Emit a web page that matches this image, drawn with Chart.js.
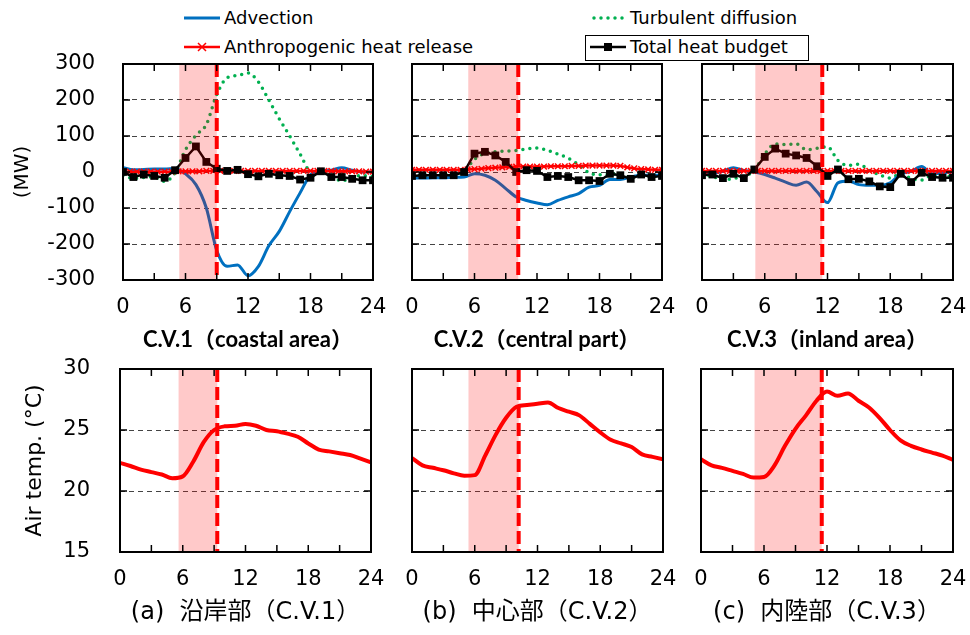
<!DOCTYPE html>
<html><head><meta charset="utf-8">
<script src="https://cdn.jsdelivr.net/npm/chart.js@4.4.0/dist/chart.umd.min.js"></script>
<style>
html,body{margin:0;padding:0;background:#fff;}
#wrap{position:relative;width:970px;height:635px;overflow:hidden;background:#fff;font-family:'DejaVu Sans','Noto Sans CJK JP',sans-serif;}
canvas{position:absolute;}
.lg{position:absolute;font-size:18px;line-height:22px;color:#000;white-space:nowrap;}
svg{position:absolute;overflow:visible;}
#boxT{position:absolute;left:585px;top:35px;width:222px;height:24px;border:1px solid #000;}
</style></head><body>
<div id="wrap">
  <svg style="left:182px;top:10px" width="40" height="16"><line x1="2" y1="8" x2="38" y2="8" stroke="#0070C0" stroke-width="3"/></svg>
  <div class="lg" style="left:224px;top:7px">Advection</div>
  <svg style="left:182px;top:39px" width="40" height="16"><line x1="2" y1="8" x2="38" y2="8" stroke="#FF0000" stroke-width="2.5"/><path d="M16 4 L24 12 M24 4 L16 12" stroke="#FF0000" stroke-width="1.5"/></svg>
  <div class="lg" style="left:224px;top:36px">Anthropogenic heat release</div>
  <svg style="left:590px;top:10px" width="40" height="16"><line x1="4" y1="8" x2="36" y2="8" stroke="#00B050" stroke-width="3.5" stroke-dasharray="0 7" stroke-linecap="round"/></svg>
  <div class="lg" style="left:630px;top:7px">Turbulent diffusion</div>
  <div id="boxT"></div>
  <svg style="left:588px;top:39px" width="40" height="16"><line x1="2" y1="8" x2="38" y2="8" stroke="#000" stroke-width="2.5"/><rect x="16" y="4" width="8" height="8" fill="#000"/></svg>
  <div class="lg" style="left:630px;top:36px">Total heat budget</div>

  <canvas id="t1" width="400" height="305" style="left:0px;top:50px"></canvas>
  <canvas id="t2" width="310" height="305" style="left:380px;top:50px"></canvas>
  <canvas id="t3" width="300" height="305" style="left:670px;top:50px"></canvas>
  <canvas id="b1" width="400" height="280" style="left:0px;top:355px"></canvas>
  <canvas id="b2" width="310" height="280" style="left:380px;top:355px"></canvas>
  <canvas id="b3" width="300" height="280" style="left:670px;top:355px"></canvas>
</div>
<script>
// ---- data ----
const hours = [0,1,2,3,4,5,6,7,8,9,10,11,12,13,14,15,16,17,18,19,20,21,22,23,24];
const anthHours = [0,0.67,1.33,2,2.67,3.33,4,4.67,5.33,6,6.67,7.33,8,8.67,9.33,10,10.67,11.33,12,12.67,13.33,14,14.67,15.33,16,16.67,17.33,18,18.67,19.33,20,20.67,21.33,22,22.67,23.33,24];

const adv1  = [12,6,7,8,8,10,-5,-35,-100,-218,-262,-258,-288,-262,-205,-165,-110,-58,-8,2,5,12,5,0,0];
const turb1 = [-10,-18,-15,-14,-26,-2,62,102,132,215,262,268,275,250,200,148,100,50,2,0,-10,-25,-14,-10,-12];
const tot1  = [0,-14,-7,-11,-16,5,39,71,28,9,3,6,-6,-12,-5,-9,-11,-21,-16,2,-14,-14,-19,-23,-23];
const anth1 = [1,1,1,1,1,1,1,1,2,2,2,2,3,3,3,3,3,3,3,3,3,3,3,3,3,3,3,3,3,3,3,2,2,2,2,1,1];

const adv2  = [-17,-17,-16,-16,-15,-14,-5,-9,-23,-46,-69,-79,-86,-91,-79,-69,-60,-42,-37,-21,-21,-14,-9,-9,-9];
const turb2 = [-12,-10,-9,-9,-8,2,35,52,56,58,60,64,67,60,50,38,20,-2,-8,-6,-8,-15,-8,-12,-10];
const tot2  = [-11,-9,-9,-9,-9,0,51,56,46,28,0,5,3,-14,-11,-14,-23,-23,-25,-5,-9,-19,-7,-14,-11];
const anth2 = [6,6,6,6,6,6,6,6,7,8,9,11,12,13,14,15,15,15,15,15,16,16,16,17,17,18,18,18,18,18,17,13,10,8,7,6,6];

const adv3  = [0,-3,2,12,4,0,-7,-17,-28,-37,-28,-55,-85,-30,-25,-35,-37,-37,-30,-6,2,15,-5,-2,0];
const turb3 = [-8,-12,-22,-18,-12,5,50,78,76,78,62,66,70,32,18,22,5,-8,-17,-5,-18,-22,-10,-12,-12];
const tot3  = [-9,-7,-17,-5,-17,7,42,65,51,46,39,16,-11,7,-20,-19,-26,-40,-42,-5,-28,-2,-14,-16,-16];
const anth3 = [3,3,3,3,3,3,3,3,3,3,3,3,3,3,3,3,3,3,3,3,3,3,3,3,3,3,3,3,3,3,3,3,3,3,3,3,3];

const temp1 = [22.3,22.05,21.75,21.55,21.35,21.05,21.2,22.4,24.0,25.0,25.3,25.35,25.5,25.35,25.0,24.9,24.7,24.45,23.9,23.4,23.25,23.1,22.95,22.65,22.35];
const temp2 = [22.7,22.1,21.9,21.7,21.45,21.25,21.3,22.9,24.6,26.0,26.9,27.05,27.15,27.25,26.8,26.5,26.2,25.5,24.8,24.2,23.9,23.6,23.0,22.8,22.6];
const temp3 = [22.6,22.1,21.9,21.65,21.4,21.1,21.15,22.1,23.7,25.1,26.2,27.4,28.15,27.8,28.0,27.4,26.85,26.0,25.0,24.15,23.7,23.4,23.15,22.9,22.55];

const topTitles = ['C.V.1（coastal area）','C.V.2（central part）','C.V.3（inland area）'];
const bottomTitles = ['(a)  沿岸部（C.V.1）','(b)  中心部（C.V.2）','(c)  内陸部（C.V.3）'];
const shadeTop = [[5.4,9.0],[5.4,10.2],[5.1,11.5]];
const shadeBottom = [[5.6,9.3],[5.4,10.2],[5.1,11.5]];

// ---- drawing ----
const FONT = "'DejaVu Sans','Noto Sans CJK JP',sans-serif";
Chart.defaults.font.family = FONT;
Chart.defaults.color = '#000';

const framePlugin = {
  id: 'frame',
  afterDatasetsDraw(chart, args, opts) {
    const {ctx, chartArea: a, scales: {x, y}} = chart;
    const sh = opts.shade;
    ctx.save();
    const x0 = x.getPixelForValue(sh[0]), x1 = x.getPixelForValue(sh[1]);
    ctx.fillStyle = 'rgba(255,0,0,0.21)';
    ctx.fillRect(x0, a.top, x1 - x0, a.bottom - a.top);
    ctx.strokeStyle = '#FF0000'; ctx.lineWidth = 4; ctx.setLineDash([13, 5]);
    ctx.beginPath(); ctx.moveTo(x1, a.top); ctx.lineTo(x1, a.bottom); ctx.stroke();
    ctx.setLineDash([]);
    ctx.strokeStyle = '#000'; ctx.lineWidth = 2;
    ctx.strokeRect(a.left, a.top, a.right - a.left, a.bottom - a.top);
    ctx.lineWidth = 1.5;
    ctx.beginPath();
    for (let t = 3; t < 24; t += 3) {
      const px = x.getPixelForValue(t);
      ctx.moveTo(px, a.bottom); ctx.lineTo(px, a.bottom - 7);
      ctx.moveTo(px, a.top); ctx.lineTo(px, a.top + 7);
    }
    y.ticks.forEach(tk => {
      const py = y.getPixelForValue(tk.value);
      ctx.moveTo(a.left, py); ctx.lineTo(a.left + 7, py);
      ctx.moveTo(a.right, py); ctx.lineTo(a.right - 7, py);
    });
    ctx.stroke();
    ctx.restore();
  }
};

const pads = [{left:0,right:27},{left:32,right:28},{left:32,right:17}];
const padsB = [{left:0,right:29},{left:32,right:27},{left:31,right:17}];
const CLEAR = 'rgba(0,0,0,0)';

function pts(xs, ys) { return xs.map((h, i) => ({x: h, y: ys[i]})); }

function xScale(title, titleFont, titlePadBottom, height) {
  return {type:'linear', min:0, max:24,
    grid:{display:true, drawOnChartArea:false, drawTicks:true, tickLength:15, color:CLEAR, tickColor:CLEAR},
    border:{display:false},
    ticks:{stepSize:6, padding:0, font:{size:21}, color:'#000', maxRotation:0},
    title:{display:true, text:title, color:'#000', font:titleFont, padding:{top:0,bottom:titlePadBottom}},
    afterFit:s => { s.height = height; }};
}

function topChart(id, idx, adv, turb, anth, tot) {
  const showY = idx === 0;
  return new Chart(document.getElementById(id), {
    type: 'line',
    data: { datasets: [
      {label:'Total heat budget', data: pts(hours, tot), borderColor:'#000', backgroundColor:'#000', borderWidth:2.5, pointStyle:'rect', pointRadius:5.5, pointBorderWidth:0, tension:0},
      {label:'Anthropogenic heat release', data: pts(anthHours, anth), borderColor:'#FF0000', backgroundColor:'#FF0000', borderWidth:2.5, pointStyle:'crossRot', pointRadius:4, pointBorderWidth:1.5, pointBorderColor:'#FF0000', tension:0},
      {label:'Advection', data: pts(hours, adv), borderColor:'#0070C0', borderWidth:3, pointRadius:0, cubicInterpolationMode:'monotone'},
      {label:'Turbulent diffusion', data: pts(hours, turb), borderColor:'#00B050', borderWidth:3.5, borderDash:[0,7], borderCapStyle:'round', pointRadius:0, cubicInterpolationMode:'monotone'}
    ]},
    options: {
      responsive:false, animation:false, events:[],
      layout:{padding:{left:pads[idx].left, right:pads[idx].right, top:14, bottom:0}},
      plugins:{legend:{display:false}, tooltip:{enabled:false}, frame:{shade:shadeTop[idx]}},
      scales:{
        x: xScale(topTitles[idx], {size:22, weight:'bold', family:"Lato,'Noto Sans CJK JP',sans-serif"}, 2, 75),
        y:{type:'linear', min:-300, max:300,
           ticks:{display:showY, stepSize:100, padding:0, font:{size:21}, color:'#000'},
           grid:{color:'#444', lineWidth:1, drawTicks:true, tickLength:28, tickColor:CLEAR}, border:{display:false, dash:[5,4]},
           title:{display:showY, text:'(MW)', color:'#000', font:{size:20}, padding:{top:11}},
           afterFit:s => { s.width = showY ? 123 : 0; }}
      }
    },
    plugins:[framePlugin]
  });
}

function bottomChart(id, idx, temp) {
  const showY = idx === 0;
  return new Chart(document.getElementById(id), {
    type: 'line',
    data: { datasets: [
      {label:'Air temp.', data: pts(hours, temp), borderColor:'#FF0000', borderWidth:4, pointRadius:0, cubicInterpolationMode:'monotone'}
    ]},
    options: {
      responsive:false, animation:false, events:[],
      layout:{padding:{left:padsB[idx].left, right:padsB[idx].right, top:14, bottom:0}},
      plugins:{legend:{display:false}, tooltip:{enabled:false}, frame:{shade:shadeBottom[idx]}},
      scales:{
        x: xScale(bottomTitles[idx], {size:24}, 8, 83),
        y:{type:'linear', min:15, max:30,
           ticks:{display:showY, stepSize:5, padding:0, font:{size:21}, color:'#000'},
           grid:{color:'#444', lineWidth:1, drawTicks:true, tickLength:30, tickColor:CLEAR}, border:{display:false, dash:[5,4]},
           title:{display:showY, text:'Air temp. (°C)', color:'#000', font:{size:22}, padding:{top:22}},
           afterFit:s => { s.width = showY ? 120 : 0; }}
      }
    },
    plugins:[framePlugin]
  });
}

topChart('t1', 0, adv1, turb1, anth1, tot1);
topChart('t2', 1, adv2, turb2, anth2, tot2);
topChart('t3', 2, adv3, turb3, anth3, tot3);
bottomChart('b1', 0, temp1);
bottomChart('b2', 1, temp2);
bottomChart('b3', 2, temp3);
</script>
</body></html>
